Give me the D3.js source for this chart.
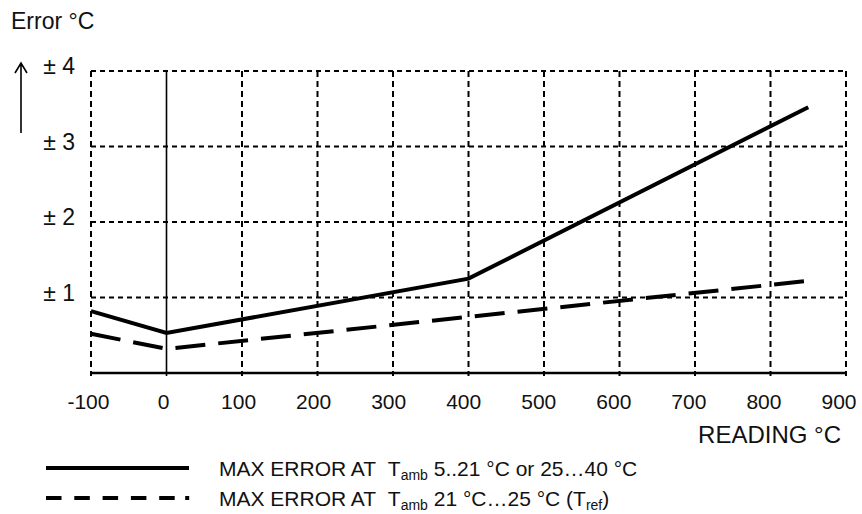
<!DOCTYPE html>
<html>
<head>
<meta charset="utf-8">
<script src="https://cdn.jsdelivr.net/npm/d3@7"></script>
<style>
  body { margin: 0; background: #fff; }
  svg { display: block; font-family: "Liberation Sans", Arial, sans-serif; }
</style>
</head>
<body>
<svg id="chart"></svg>
<script>
// data
const xTicks = [-100, 0, 100, 200, 300, 400, 500, 600, 700, 800, 900];
const yTicks = [1, 2, 3, 4];
const solidReading = [-100, 0, 400, 850];
const solidError = [0.82, 0.53, 1.25, 3.52];
const dashedReading = [-100, 0, 850];
const dashedError = [0.52, 0.32, 1.22];

const width = 862;
const height = 514;
const svg = d3.select("#chart").attr("width", width).attr("height", height);

const x = d3.scaleLinear().domain([-100, 900]).range([91, 846]);
const y = d3.scaleLinear().domain([0, 4]).range([373, 71]);

const grid = svg.append("g").attr("class", "grid");

// vertical dotted grid lines (0 is solid)
grid
  .selectAll("line.v")
  .data(xTicks)
  .join("line")
  .attr("class", "v")
  .attr("x1", (d) => x(d))
  .attr("x2", (d) => x(d))
  .attr("y1", y(4))
  .attr("y2", y(0) + 3)
  .attr("stroke", "#000")
  .attr("stroke-width", (d) => (d === 0 ? 1.6 : 2))
  .attr("stroke-dasharray", (d) => (d === 0 ? null : "6,4"));

// horizontal dotted grid lines
grid
  .selectAll("line.h")
  .data(yTicks)
  .join("line")
  .attr("class", "h")
  .attr("x1", x(-100))
  .attr("x2", x(900))
  .attr("y1", (d) => y(d))
  .attr("y2", (d) => y(d))
  .attr("stroke", "#000")
  .attr("stroke-width", 2)
  .attr("stroke-dasharray", "5,4");

// x axis base line
svg
  .append("line")
  .attr("x1", x(-100))
  .attr("x2", x(900))
  .attr("y1", y(0))
  .attr("y2", y(0))
  .attr("stroke", "#000")
  .attr("stroke-width", 2.5);

// tick labels
svg
  .append("g")
  .selectAll("text")
  .data(xTicks)
  .join("text")
  .attr("x", (d) => x(d) - 3 - (d / 900) * 4)
  .attr("y", 409)
  .attr("text-anchor", "middle")
  .attr("font-size", 21)
  .attr("fill", "#111")
  .text((d) => d);

svg
  .append("g")
  .selectAll("text")
  .data(yTicks)
  .join("text")
  .attr("x", 75)
  .attr("y", (d) => y(d) + 3)
  .attr("text-anchor", "end")
  .attr("font-size", 23)
  .attr("fill", "#111")
  .text((d) => "\u00b1 " + d);

// axis titles
svg
  .append("text")
  .attr("x", 11)
  .attr("y", 29)
  .attr("font-size", 23)
  .attr("fill", "#111")
  .text("Error \u00b0C");

svg
  .append("text")
  .attr("x", 841)
  .attr("y", 443)
  .attr("text-anchor", "end")
  .attr("font-size", 24)
  .attr("fill", "#111")
  .text("READING \u00b0C");

// up arrow beside the y labels
svg
  .append("path")
  .attr("d", "M21,133 V63 M15,73 L21,63 L27,73")
  .attr("fill", "none")
  .attr("stroke", "#000")
  .attr("stroke-width", 1.6);

// error curves
const line = d3
  .line()
  .x((d) => x(d[0]))
  .y((d) => y(d[1]));

svg
  .append("path")
  .datum(d3.zip(solidReading, solidError))
  .attr("d", line)
  .attr("fill", "none")
  .attr("stroke", "#000")
  .attr("stroke-width", 4);

svg
  .append("path")
  .datum(d3.zip(dashedReading, dashedError))
  .attr("d", line)
  .attr("fill", "none")
  .attr("stroke", "#000")
  .attr("stroke-width", 4)
  .attr("stroke-dasharray", "30,13");

// legend
const legend = svg.append("g").attr("class", "legend");
legend
  .append("line")
  .attr("x1", 46)
  .attr("x2", 189)
  .attr("y1", 468)
  .attr("y2", 468)
  .attr("stroke", "#000")
  .attr("stroke-width", 4);
legend
  .append("line")
  .attr("x1", 46)
  .attr("x2", 190)
  .attr("y1", 498)
  .attr("y2", 498)
  .attr("stroke", "#000")
  .attr("stroke-width", 4)
  .attr("stroke-dasharray", "15.5,12.8,15.5,12.8,15.5,12.8,15.5,12.8,15.5,10.5,4,30");

function legendText(yPos, parts) {
  const t = legend
    .append("text")
    .attr("x", 219)
    .attr("y", yPos)
    .attr("font-size", 21)
    .attr("fill", "#111");
  parts.forEach((p) => {
    t.append("tspan")
      .attr("font-size", p.sub ? 14 : 21)
      .attr("dy", p.sub ? 4 : p.back ? -4 : 0)
      .text(p.s);
  });
}

legendText(476, [
  { s: "MAX ERROR AT\u00a0\u00a0T" },
  { s: "amb", sub: true },
  { s: " 5..21 \u00b0C or 25\u202640 \u00b0C", back: true },
]);
legendText(506, [
  { s: "MAX ERROR AT\u00a0\u00a0T" },
  { s: "amb", sub: true },
  { s: " 21 \u00b0C\u202625 \u00b0C (T", back: true },
  { s: "ref", sub: true },
  { s: ")", back: true },
]);
</script>
</body>
</html>
